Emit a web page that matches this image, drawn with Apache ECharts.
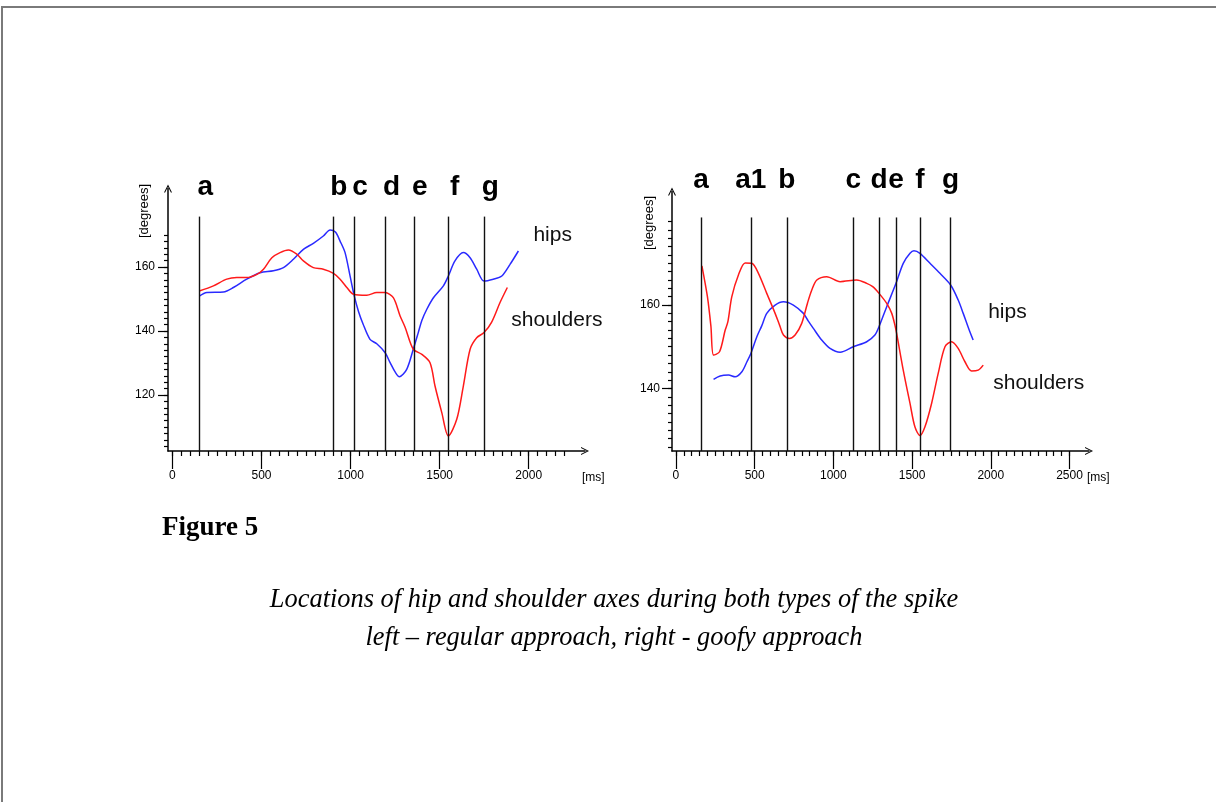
<!DOCTYPE html>
<html>
<head>
<meta charset="utf-8">
<title>Figure 5</title>
<script src="https://cdn.jsdelivr.net/npm/echarts@6/dist/echarts.min.js"></script>
<style>
  html, body { margin: 0; padding: 0; background: #fff; }
  #page { position: relative; width: 1216px; height: 802px; overflow: hidden; }
  #frame { position: absolute; left: 1px; top: 6px; right: -10px; bottom: -10px;
           border-top: 2px solid #7a7a7a; border-left: 2px solid #7a7a7a; }
  #chart { position: absolute; left: 0; top: 0; width: 1216px; height: 802px; }
  .fig { position: absolute; left: 162px; top: 511px; font: bold 27px "Liberation Serif", serif;
         line-height: 30px; color: #000; }
  .cap { position: absolute; left: 164px; width: 900px; top: 579px; text-align: center;
         font: italic 26.4px "Liberation Serif", serif; line-height: 38px; color: #000; }
</style>
</head>
<body>
<div id="page">
  <div id="frame"></div>
  <div id="chart"></div>
  <div class="fig">Figure 5</div>
  <div class="cap">Locations of hip and shoulder axes during both types of the spike<br>left – regular approach, right - goofy approach</div>
</div>
<script>
// tick labels
const leftXTicks = [0, 500, 1000, 1500, 2000];
const rightXTicks = [0, 500, 1000, 1500, 2000, 2500];
const leftYTicks = [120, 140, 160];
const rightYTicks = [140, 160];

// phase markers
const leftEventTimes = [150, 900, 1020, 1197, 1355, 1550, 1750];
const leftEventNames = ['a', 'b', 'c', 'd', 'e', 'f', 'g'];
const rightEventTimes = [159, 476, 704, 1127, 1290, 1398, 1550, 1745];
const rightEventNames = ['a', 'a1', 'b', 'c', 'd', 'e', 'f', 'g'];

// [ms, degrees] - regular approach
const leftHips = [
  [151, 150.9], [193, 152], [286, 152.2], [342, 153.6], [417, 156.2], [492, 158.2], [567, 158.8],
  [623, 159.8], [679, 162.4], [735, 165.5], [791, 167.4], [847, 169.7], [885, 171.6], [915, 170.9],
  [941, 168.1], [969, 164.5], [997, 157.2], [1021, 150.9], [1044, 146.2], [1070, 142.2], [1109, 137.4],
  [1147, 136], [1194, 133.2], [1222, 130.1], [1250, 127.2], [1274, 125.7], [1315, 128], [1352, 134.3],
  [1380, 139.5], [1400, 143.3], [1428, 146.8], [1465, 150.4], [1521, 154.1], [1549, 157.2], [1586, 161.9],
  [1633, 164.5], [1671, 162.9], [1708, 159.3], [1749, 155.6], [1801, 156.2], [1849, 157.2], [1895, 160.8],
  [1942, 165]
];
const leftShoulders = [
  [151, 152.5], [230, 154.1], [305, 156.2], [361, 156.7], [417, 156.7], [474, 157.7], [511, 159.3],
  [558, 162.9], [604, 164.5], [651, 165.3], [698, 164], [735, 161.9], [791, 159.8], [847, 159.3],
  [904, 158], [941, 156.2], [979, 153.6], [1016, 151.5], [1091, 151.2], [1147, 152], [1194, 152],
  [1240, 150.4], [1278, 144.7], [1306, 141.2], [1352, 134.3], [1400, 132.7], [1446, 130.1], [1474, 122.8],
  [1512, 114.5], [1549, 107.2], [1596, 112.4], [1633, 122.8], [1671, 134.3], [1708, 137.9], [1749, 139.5],
  [1792, 142.8], [1839, 148.9], [1880, 153.6]
];

// [ms, degrees] - goofy approach
const rightHips = [
  [239, 142.2], [281, 143], [334, 143.2], [376, 142.8], [419, 144], [451, 146.4], [476, 148.4],
  [514, 152.4], [545, 155], [577, 158], [630, 160], [683, 160.8], [746, 160], [810, 158], [840, 156.2],
  [873, 154.4], [926, 151.6], [979, 149.6], [1043, 148.7], [1127, 150], [1212, 151.2], [1264, 152.8],
  [1290, 154.8], [1339, 159.6], [1398, 165.2], [1444, 170], [1487, 172.4], [1512, 173], [1550, 172.4],
  [1614, 170], [1677, 167.6], [1745, 164.8], [1793, 161.2], [1825, 158], [1863, 154], [1888, 151.6]
];
const rightShoulders = [
  [165, 169.4], [200, 162], [222, 155], [239, 148], [277, 148.8], [313, 154], [330, 156], [355, 162],
  [397, 167.2], [440, 170.1], [482, 170], [524, 167.6], [577, 162.8], [630, 158], [660, 155], [683, 152.8],
  [721, 152], [757, 152.8], [799, 155.6], [836, 160.5], [863, 163.6], [895, 166], [958, 166.8],
  [1043, 165.6], [1148, 166], [1212, 165.2], [1250, 164.4], [1290, 162.8], [1339, 160.4], [1371, 158],
  [1392, 155], [1402, 153.2], [1444, 144.4], [1487, 136.4], [1518, 130.8], [1550, 128.7], [1582, 130.8],
  [1624, 136.4], [1666, 143.6], [1709, 150], [1751, 151.2], [1793, 149.6], [1836, 146.4], [1878, 144.2],
  [1920, 144.4], [1952, 145.6]
];

const FONT = 'Liberation Sans';
const ARROW = 'path://M0,10 L5,0 L10,10 L8.6,10 L5,2.6 L1.4,10 Z';

function steps(from, to, step) {
  const out = [];
  for (let v = from; v <= to; v += step) out.push(v);
  return out;
}

const plain = v => String(v);

function xAxes(grid, min, max, ticks, minorTo, nameGap) {
  return [{
    gridIndex: grid, type: 'value', position: 'bottom', min: min, max: max,
    axisLine: { onZero: false, symbol: ['none', ARROW], symbolSize: [15, 8],
                lineStyle: { color: '#000', width: 1.5 } },
    axisTick: { customValues: ticks, length: 18, lineStyle: { color: '#000', width: 1.2 } },
    axisLabel: { customValues: ticks, formatter: plain, margin: 19, color: '#000', fontSize: 12, fontFamily: FONT },
    splitLine: { show: false },
    name: '[ms]', nameLocation: 'end', nameGap: nameGap,
    nameTextStyle: { color: '#000', fontSize: 12, fontFamily: FONT, align: 'left',
                     verticalAlign: 'top', padding: [21, 0, 0, 0] }
  }, {
    gridIndex: grid, type: 'value', position: 'bottom', min: min, max: max,
    axisLine: { show: false, onZero: false },
    axisTick: { customValues: steps(0, minorTo, 50), length: 5, lineStyle: { color: '#000', width: 1.2 } },
    axisLabel: { show: false },
    splitLine: { show: false }
  }];
}

function yAxes(grid, min, max, ticks, minorFrom, minorTo, margin) {
  return [{
    gridIndex: grid, type: 'value', position: 'left', min: min, max: max,
    axisLine: { onZero: false, symbol: ['none', ARROW], symbolSize: [15, 8],
                lineStyle: { color: '#000', width: 1.5 } },
    axisTick: { customValues: ticks, length: 10, lineStyle: { color: '#000', width: 1.2 } },
    axisLabel: { customValues: ticks, formatter: plain, margin: margin, color: '#000', fontSize: 12, fontFamily: FONT },
    splitLine: { show: false }
  }, {
    gridIndex: grid, type: 'value', position: 'left', min: min, max: max,
    axisLine: { show: false, onZero: false },
    axisTick: { customValues: steps(minorFrom, minorTo, 2), length: 4, lineStyle: { color: '#000', width: 1.2 } },
    axisLabel: { show: false },
    splitLine: { show: false }
  }];
}

function events(times, names, bottom, top) {
  return times.map((t, i) => [{ coord: [t, bottom], name: names[i] }, { coord: [t, top] }]);
}

function curve(name, data, xi, yi, color, offset, marks) {
  const s = {
    type: 'line', name: name, data: data, xAxisIndex: xi, yAxisIndex: yi,
    smooth: 0.3, showSymbol: false, clip: false,
    lineStyle: { color: color, width: 1.5 },
    endLabel: { show: true, formatter: name, offset: offset, color: '#111',
                fontSize: 21, fontFamily: FONT },
    silent: true
  };
  if (marks) s.markLine = marks;
  return s;
}

// shift = extra left padding, moves the letter right by half of it
function markLines(data, distance, shift) {
  return {
    silent: true, symbol: ['none', 'none'], animation: false,
    lineStyle: { color: '#111', width: 1.4, type: 'solid' },
    label: { show: true, position: 'end', formatter: '{b}', distance: distance,
             color: '#000', fontSize: 28, fontWeight: 'bold', fontFamily: FONT, padding: [0, 0, 0, shift] },
    data: data
  };
}

const LEFT_Y = [102.5, 184.5];
const RIGHT_Y = [125, 187.2];

const option = {
  animation: false,
  grid: [
    { left: 168, top: 188.6, width: 417, height: 262.4 },
    { left: 672, top: 191.6, width: 417, height: 259.4 }
  ],
  xAxis: [].concat(
    xAxes(0, -25, 2316, leftXTicks, 2200, -3),
    xAxes(1, -25, 2624, rightXTicks, 2500, -2)
  ),
  yAxis: [].concat(
    yAxes(0, LEFT_Y[0], LEFT_Y[1], leftYTicks, 104, 170, 13),
    yAxes(1, RIGHT_Y[0], RIGHT_Y[1], rightYTicks, 126, 180, 12)
  ),
  graphic: [
    { type: 'text', x: 144, y: 211, rotation: Math.PI / 2,
      style: { text: '[degrees]', font: '13px "Liberation Sans"', fill: '#000', align: 'center', verticalAlign: 'middle' } },
    { type: 'text', x: 649, y: 223, rotation: Math.PI / 2,
      style: { text: '[degrees]', font: '13px "Liberation Sans"', fill: '#000', align: 'center', verticalAlign: 'middle' } }
  ],
  series: [
    curve('hips', leftHips, 0, 0, '#2a2aff', [7, -16],
      markLines(events(leftEventTimes, leftEventNames, LEFT_Y[0], 175.75), 15, 12)),
    curve('shoulders', leftShoulders, 0, 0, '#ff1a1a', [-4, 33]),
    curve('hips', rightHips, 2, 2, '#2a2aff', [7, -28],
      markLines(events(rightEventTimes, rightEventNames, RIGHT_Y[0], 181.0), 23, 0)),
    curve('shoulders', rightShoulders, 2, 2, '#ff1a1a', [2, 18])
  ]
};

const chart = echarts.init(document.getElementById('chart'));
chart.setOption(option);
</script>
</body>
</html>
